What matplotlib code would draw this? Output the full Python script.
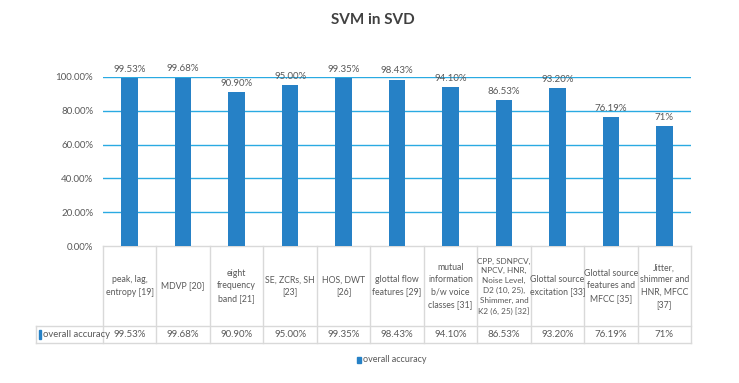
import matplotlib
matplotlib.use("Agg")
import matplotlib.pyplot as plt
import matplotlib.transforms as mtransforms
from matplotlib.patches import Rectangle

plt.rcParams['font.family'] = ['Lato', 'DejaVu Sans']

title = "SVM in SVD"
series_name = "overall accuracy"
categories = [
    "peak, lag,\nentropy [19]",
    "MDVP [20]",
    "eight\nfrequency\nband [21]",
    "SE, ZCRs, SH\n[23]",
    "HOS, DWT\n[26]",
    "glottal flow\nfeatures [29]",
    "mutual\ninformation\nb/w voice\nclasses [31]",
    "CPP, SDNPCV,\nNPCV, HNR,\nNoise Level,\nD2 (10, 25),\nShimmer, and\nK2 (6, 25) [32]",
    "Glottal source\nexcitation [33]",
    "Glottal source\nfeatures and\nMFCC [35]",
    "Jitter,\nshimmer and\nHNR, MFCC\n[37]",
]
values = [0.9953, 0.9968, 0.9090, 0.9500, 0.9935, 0.9843, 0.9410, 0.8653, 0.9320, 0.7619, 0.71]
value_labels = ["99.53%", "99.68%", "90.90%", "95.00%", "99.35%", "98.43%", "94.10%",
                "86.53%", "93.20%", "76.19%", "71%"]
yticks = [0.0, 0.2, 0.4, 0.6, 0.8, 1.0]
ytick_labels = ["0.00%", "20.00%", "40.00%", "60.00%", "80.00%", "100.00%"]

W, H = 739, 383
fig = plt.figure(figsize=(W / 100, H / 100), dpi=100)
fig.patch.set_facecolor('white')

left_px, right_px, top_px, bottom_px = 103, 691, 77, 246
ax = fig.add_axes([left_px / W, 1 - bottom_px / H, (right_px - left_px) / W, (bottom_px - top_px) / H])

bar_color = '#2681C6'
grid_color = '#2AAAE2'
text_color = '#595959'
table_color = '#D9D9D9'

n = len(categories)
x = list(range(n))
ax.bar(x, values, width=0.31, color=bar_color, zorder=3)
ax.set_xlim(-0.5, n - 0.5)
ax.set_ylim(0, 1.0)
ax.set_yticks(yticks)
ax.set_yticklabels(ytick_labels, fontsize=7, color=text_color)
ax.tick_params(axis='y', length=0, pad=7)
ax.set_xticks([])
for s in ['top', 'right', 'left']:
    ax.spines[s].set_visible(False)
ax.spines['bottom'].set_color(table_color)
ax.spines['bottom'].set_linewidth(1.0)
for yt in yticks[1:]:
    ax.axhline(yt, color=grid_color, lw=1.0, zorder=1)

for xi, v, lab in zip(x, values, value_labels):
    ax.annotate(lab, (xi, v), xytext=(0, 3), textcoords='offset points',
                ha='center', va='bottom', fontsize=7, color=text_color, annotation_clip=False)

# data table below the plot
trans = mtransforms.blended_transform_factory(ax.transData, ax.transAxes)
ph = bottom_px - top_px
row1_bot = -(326 - bottom_px) / ph
row2_bot = -(343 - bottom_px) / ph
unit_px = (right_px - left_px) / n
legcol_left = -0.5 - (left_px - 36) / unit_px

lk = dict(color=table_color, lw=1.0, transform=trans, clip_on=False)
for i in range(n + 1):
    xb = i - 0.5
    ax.plot([xb, xb], [0, row2_bot], **lk)
ax.plot([legcol_left, n - 0.5], [row1_bot, row1_bot], **lk)
ax.plot([legcol_left, n - 0.5], [row2_bot, row2_bot], **lk)
ax.plot([legcol_left, legcol_left], [row1_bot, row2_bot], **lk)

for xi, cat, lab in zip(x, categories, value_labels):
    fs = 5.9 if cat.startswith("CPP") else 6.3
    ax.text(xi, row1_bot / 2, cat, transform=trans, ha='center', va='center',
            fontsize=fs, color=text_color, linespacing=1.45, clip_on=False)
    ax.text(xi, (row1_bot + row2_bot) / 2, lab, transform=trans, ha='center', va='center',
            fontsize=7, color=text_color, clip_on=False)

# legend key in table
ymid = (row1_bot + row2_bot) / 2
ax.add_patch(Rectangle((legcol_left + 0.05, ymid - 0.025), 0.05, 0.05, transform=trans,
                       color=bar_color, clip_on=False))
ax.text(legcol_left + 0.13, ymid, series_name, transform=trans, ha='left', va='center',
        fontsize=6.8, color=text_color, clip_on=False)

# bottom legend
fig.patches.append(Rectangle((357 / W, 1 - 363 / H), 4 / W, 6 / H, transform=fig.transFigure,
                             color=bar_color))
fig.text(363 / W, 1 - 360 / H, series_name, ha='left', va='center', fontsize=6.5, color=text_color)

fig.text(0.5 * (W) / W + 0.005, 1 - 20 / H, title, ha='center', va='center', fontsize=11,
         fontweight='bold', color='#404040')

fig.savefig('out.png', dpi=100)
